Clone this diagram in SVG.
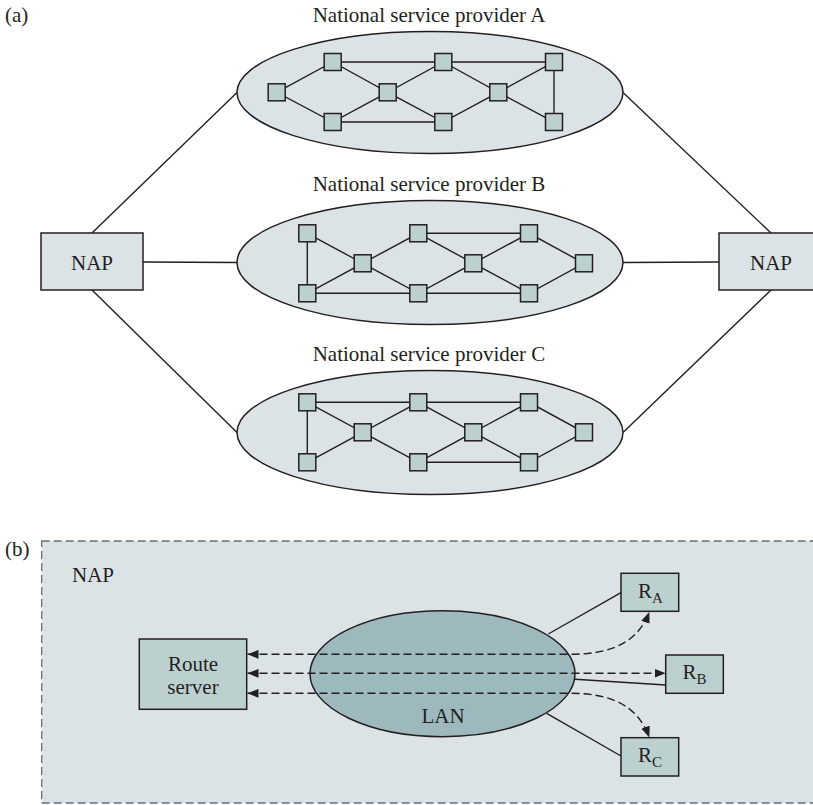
<svg xmlns="http://www.w3.org/2000/svg" width="813" height="805" viewBox="0 0 813 805">
<defs>
<style>
text{font-family:"Liberation Serif","Times New Roman",serif;font-size:21px;fill:#231f20}
.ell{fill:#dce3e6;stroke:#231f20;stroke-width:1.5}
.sq{fill:#bcd1ce;stroke:#231f20;stroke-width:1.5}
.ln{stroke:#231f20;stroke-width:1.4;fill:none}
.box{fill:#dce3e6;stroke:#231f20;stroke-width:1.5}
.rbox{fill:#bcd1cf;stroke:#231f20;stroke-width:1.5}
.dash{stroke:#231f20;stroke-width:1.4;fill:none;stroke-dasharray:8 4;marker-start:url(#ah);marker-end:url(#ah)}
.sub{font-size:15px}
</style>
<marker id="ah" viewBox="0 0 10 8" refX="10" refY="4" markerWidth="11" markerHeight="9" markerUnits="userSpaceOnUse" orient="auto-start-reverse">
<path d="M0,0 L10,4 L0,8 z" fill="#231f20"/>
</marker>
<rect id="s" x="-8.5" y="-8.5" width="17" height="17" class="sq"/>
</defs>
<rect width="813" height="805" fill="#ffffff"/>
<text x="5" y="21.5">(a)</text>

<g id="connectors-a">
<line class="ln" x1="92" y1="233" x2="237" y2="92.5"/>
<line class="ln" x1="143" y1="262" x2="237" y2="262.5"/>
<line class="ln" x1="92" y1="290" x2="237" y2="432.5"/>
<line class="ln" x1="771" y1="233" x2="623" y2="92.5"/>
<line class="ln" x1="719" y1="262" x2="623" y2="262.5"/>
<line class="ln" x1="771" y1="290" x2="623" y2="432.5"/>
</g>

<g id="nap-left">
<rect class="box" x="41" y="233" width="102" height="57"/>
<text x="92" y="270" text-anchor="middle">NAP</text>
</g>
<g id="nap-right">
<rect class="box" x="719" y="233" width="102" height="57"/>
<text x="771" y="270" text-anchor="middle">NAP</text>
</g>

<g id="provider-a">
<text x="429" y="21.5" text-anchor="middle">National service provider A</text>
<ellipse class="ell" cx="430" cy="92.5" rx="193" ry="61"/>
<g class="ln">
<path d="M276.7,92.3 L332.7,62 L387.7,92.3 L443.3,62 L498.3,92.3 L554,62 L554,122 L498.3,92.3 L443.3,122 L387.7,92.3 L332.7,122 Z"/>
<path d="M332.7,62 H554 M332.7,122 H443.3"/>
</g>
<use href="#s" x="276.7" y="92.3"/><use href="#s" x="332.7" y="62"/><use href="#s" x="332.7" y="122"/>
<use href="#s" x="387.7" y="92.3"/><use href="#s" x="443.3" y="62"/><use href="#s" x="443.3" y="122"/>
<use href="#s" x="498.3" y="92.3"/><use href="#s" x="554" y="62"/><use href="#s" x="554" y="122"/>
</g>

<g id="provider-b">
<text x="429" y="191" text-anchor="middle">National service provider B</text>
<ellipse class="ell" cx="430" cy="262.5" rx="193" ry="62"/>
<g class="ln">
<path d="M307.3,233.3 V293.3 H529 L584,263.3 L529,233.3 H418.3 L362.7,263.3 L307.3,233.3"/>
<path d="M307.3,293.3 L362.7,263.3 L418.3,293.3 L473.3,263.3 L529,293.3 M418.3,233.3 L473.3,263.3 L529,233.3"/>
</g>
<use href="#s" x="307.3" y="233.3"/><use href="#s" x="362.7" y="263.3"/><use href="#s" x="307.3" y="293.3"/>
<use href="#s" x="418.3" y="233.3"/><use href="#s" x="473.3" y="263.3"/><use href="#s" x="418.3" y="293.3"/>
<use href="#s" x="529" y="233.3"/><use href="#s" x="584" y="263.3"/><use href="#s" x="529" y="293.3"/>
</g>

<g id="provider-c">
<text x="429" y="360.5" text-anchor="middle">National service provider C</text>
<ellipse class="ell" cx="430" cy="432.5" rx="193" ry="62"/>
<g class="ln">
<path d="M307.3,462.3 V402.3 H529 L584,432.3 L529,462.3 H418.3 L362.7,432.3 L307.3,462.3"/>
<path d="M307.3,402.3 L362.7,432.3 L418.3,402.3 L473.3,432.3 L529,402.3 M418.3,462.3 L473.3,432.3 L529,462.3"/>
</g>
<use href="#s" x="307.3" y="402.3"/><use href="#s" x="362.7" y="432.3"/><use href="#s" x="307.3" y="462.3"/>
<use href="#s" x="418.3" y="402.3"/><use href="#s" x="473.3" y="432.3"/><use href="#s" x="418.3" y="462.3"/>
<use href="#s" x="529" y="402.3"/><use href="#s" x="584" y="432.3"/><use href="#s" x="529" y="462.3"/>
</g>

<text x="5" y="556">(b)</text>
<g id="nap-b">
<rect x="41.7" y="541" width="773" height="262" fill="#dce3e6" stroke="#6d6e70" stroke-width="1.3" stroke-dasharray="8 4"/>
<text x="72" y="581.5">NAP</text>
</g>

<g id="lan">
<ellipse cx="442.5" cy="673.7" rx="132.5" ry="63" fill="#9eb9be" stroke="#231f20" stroke-width="1.5"/>
<text x="443" y="722.5" text-anchor="middle">LAN</text>
</g>

<g id="route-server">
<rect class="rbox" x="139.3" y="639" width="107.4" height="70.3"/>
<text x="193" y="671" text-anchor="middle">Route</text>
<text x="193" y="694" text-anchor="middle">server</text>
</g>

<g id="ra"><rect class="rbox" x="621" y="573.3" width="57.7" height="38"/><text x="638" y="597.5">R<tspan class="sub" dy="5">A</tspan></text></g>
<g id="rb"><rect class="rbox" x="665.7" y="655" width="57.6" height="38.3"/><text x="682.5" y="679">R<tspan class="sub" dy="5">B</tspan></text></g>
<g id="rc"><rect class="rbox" x="621" y="737.7" width="57.7" height="38.3"/><text x="638" y="761.5">R<tspan class="sub" dy="5">C</tspan></text></g>

<g id="connectors-b">
<line class="ln" x1="548.3" y1="634" x2="621" y2="592.7"/>
<line class="ln" x1="575" y1="679.3" x2="665.7" y2="685"/>
<line class="ln" x1="546.7" y1="713.3" x2="621" y2="756"/>
<path class="dash" d="M247.5,654.3 H570 C612,654.3 638,642 649.3,612"/>
<path class="dash" d="M247.5,673.3 H665.5"/>
<path class="dash" d="M247.5,693.3 H570 C612,693.3 638,706 649.3,737.5"/>
</g>
</svg>
